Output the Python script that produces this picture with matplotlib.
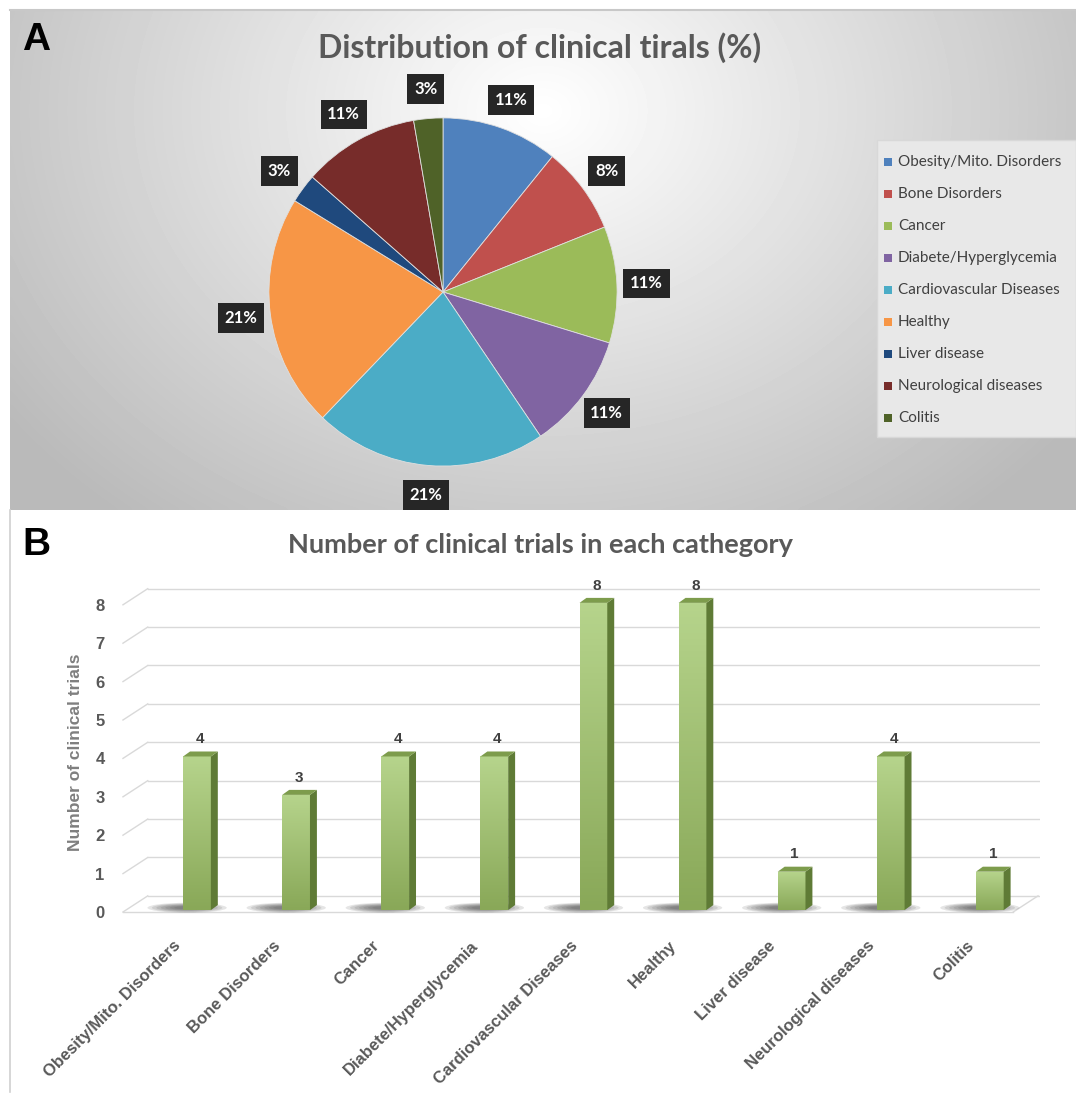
import numpy as np
import matplotlib.pyplot as plt
from matplotlib.patches import Rectangle, Polygon, Ellipse
from matplotlib.lines import Line2D
from matplotlib.colors import LinearSegmentedColormap

categories = ['Obesity/Mito. Disorders', 'Bone Disorders', 'Cancer', 'Diabete/Hyperglycemia',
              'Cardiovascular Diseases', 'Healthy', 'Liver disease', 'Neurological diseases', 'Colitis']
counts = [4, 3, 4, 4, 8, 8, 1, 4, 1]
pct_labels = ['11%', '8%', '11%', '11%', '21%', '21%', '3%', '11%', '3%']
pie_colors = ['#4f81bd', '#c0504d', '#9bbb59', '#8064a2', '#4bacc6',
              '#f79646', '#1f497d', '#772c2a', '#4f6228']

W, H = 1076, 1095
narrow = ['Liberation Sans Narrow', 'Liberation Sans']


def fx(px):
    return px / W


def fy(py):
    return 1 - py / H


fig = plt.figure(figsize=(W / 100, H / 100), dpi=100)

# panel A background gradient
ax_bg = fig.add_axes([fx(10), fy(510), 1066 / W, 500 / H])
u, v = np.meshgrid(np.linspace(0, 1, 300), np.linspace(0, 1, 150))
r = np.sqrt(((u - 0.5) / 0.5) ** 2 + ((v - 0.2) / 0.85) ** 2)
g = 1 - 0.24 * np.clip(r, 0, 1.25) / 1.1
ax_bg.imshow(g, cmap='gray', vmin=0, vmax=1, aspect='auto', interpolation='bicubic')
ax_bg.axis('off')

fig.add_artist(Line2D([fx(10), 1], [fy(10), fy(10)], color='#c8c8c8', lw=1.5))
fig.add_artist(Line2D([fx(10), fx(10)], [fy(510), fy(1092)], color='#d0d0d0', lw=1.2))

fig.text(fx(22), fy(40), 'A', fontsize=28, fontweight='bold', family='Liberation Sans',
         va='center', ha='left', color='black')
fig.text(fx(540), fy(48), 'Distribution of clinical tirals (%)', fontsize=23, fontweight='bold',
         family='Lato', color='#595959', ha='center', va='center')

# pie
ax_pie = fig.add_axes([fx(208), fy(527), 470 / W, 470 / H])
wedges, _ = ax_pie.pie(counts, colors=pie_colors, startangle=90, counterclock=False, radius=1,
                       wedgeprops=dict(edgecolor='#e0e0e0', linewidth=0.6))
ax_pie.set_xlim(-1.35, 1.35)
ax_pie.set_ylim(-1.35, 1.35)
ax_pie.set_aspect('equal')
for w, lab in zip(wedges, pct_labels):
    ang = np.deg2rad((w.theta1 + w.theta2) / 2)
    ax_pie.text(1.17 * np.cos(ang), 1.17 * np.sin(ang), lab, ha='center', va='center',
                color='white', fontsize=12, fontweight='bold', family='Lato',
                bbox=dict(boxstyle='square,pad=0.4', fc='#262626', ec='none'))

# legend
fig.add_artist(Rectangle((fx(877), fy(437)), (W - 877) / W, 297 / H, transform=fig.transFigure,
                         fc='#e8e8e8', ec='#d8d8d8', lw=1))
for i, (name, c) in enumerate(zip(categories, pie_colors)):
    yy = 162 + i * 32
    fig.add_artist(Rectangle((fx(884), fy(yy + 4)), 8 / W, 8 / H, transform=fig.transFigure,
                             fc=c, ec='none'))
    fig.text(fx(898), fy(yy), name, fontsize=11, family='Lato', color='#404040',
             ha='left', va='center')

# panel B
fig.text(fx(22), fy(545), 'B', fontsize=28, fontweight='bold', family='Liberation Sans',
         va='center', ha='left', color='black')
fig.text(fx(540), fy(545), 'Number of clinical trials in each cathegory', fontsize=19.5,
         fontweight='bold', family='Lato', color='#595959', ha='center', va='center')

L, R, T, B = 120, 1040, 580, 920
ax = fig.add_axes([fx(L), fy(B), (R - L) / W, (B - T) / H])
x = np.arange(len(categories))
xmin, xmax = (L - 197) / 99.1, (R - 197) / 99.1
ymin, ymax = (912 - B) / 38.4, (912 - T) / 38.4

depth_x, depth_y = 0.25, 0.42
for val in range(9):
    ax.plot([xmin + 0.03, xmin + 0.03 + depth_x], [val, val + depth_y], color='#d9d9d9', lw=1)
    ax.plot([xmin + 0.03 + depth_x, xmax], [val + depth_y, val + depth_y], color='#d9d9d9', lw=1)
ax.plot([xmin + 0.03, xmax - depth_x - 0.02], [0, 0], color='#d9d9d9', lw=1)
ax.plot([xmax - depth_x - 0.02, xmax - 0.02], [0, depth_y], color='#d9d9d9', lw=1)

bw, bdx, bdy, base = 0.28, 0.07, 0.13, 0.05
grad = np.linspace(1, 0, 100).reshape(-1, 1)
bar_cmap = LinearSegmentedColormap.from_list('bar', ['#89a858', '#b6d48c'])
for xi, cnt in zip(x, counts):
    for k in range(7):
        ax.add_patch(Ellipse((xi - 0.1, base + 0.06), 0.8 - k * 0.09, 0.26 - k * 0.03,
                             color='#3a3a3a', alpha=0.13, lw=0, zorder=2))
    bar = ax.bar(xi, cnt, width=bw, bottom=base, color='#9fbf6f', zorder=3)[0]
    im = ax.imshow(grad, cmap=bar_cmap, extent=[xi - bw / 2, xi + bw / 2, base, base + cnt],
                   aspect='auto', zorder=3.1)
    im.set_clip_path(bar)
    ax.add_patch(Polygon([(xi + bw / 2, base), (xi + bw / 2 + bdx, base + bdy),
                          (xi + bw / 2 + bdx, base + cnt + bdy), (xi + bw / 2, base + cnt)],
                         closed=True, fc='#5f7b36', ec='none', zorder=3.2))
    ax.add_patch(Polygon([(xi - bw / 2, base + cnt), (xi - bw / 2 + bdx, base + cnt + bdy),
                          (xi + bw / 2 + bdx, base + cnt + bdy), (xi + bw / 2, base + cnt)],
                         closed=True, fc='#7d9c4c', ec='none', zorder=3.2))
    ax.text(xi + 0.03, cnt + 0.5, str(cnt), ha='center', va='center', fontsize=11,
            fontweight='bold', family=narrow, color='#404040')
    ax.text(xi - 0.24, -0.68, categories[xi], rotation=45, rotation_mode='anchor',
            ha='right', va='top', fontsize=12, fontweight='bold',
            family=narrow, color='#595959', clip_on=False)

ax.set_xlim(xmin, xmax)
ax.set_ylim(ymin, ymax)
ax.set_yticks(range(9))
ax.set_yticklabels([str(i) for i in range(9)], fontsize=12, fontweight='bold',
                   family=narrow, color='#595959')
ax.tick_params(axis='y', length=0, pad=11)
ax.set_xticks([])
for s in ax.spines.values():
    s.set_visible(False)
ax.patch.set_alpha(0)
fig.text(fx(75), fy(752), 'Number of clinical trials', rotation=90, fontsize=12.5,
         fontweight='bold', family=narrow, color='#7f7f7f', ha='center', va='center')

fig.savefig('out.png', dpi=100)
